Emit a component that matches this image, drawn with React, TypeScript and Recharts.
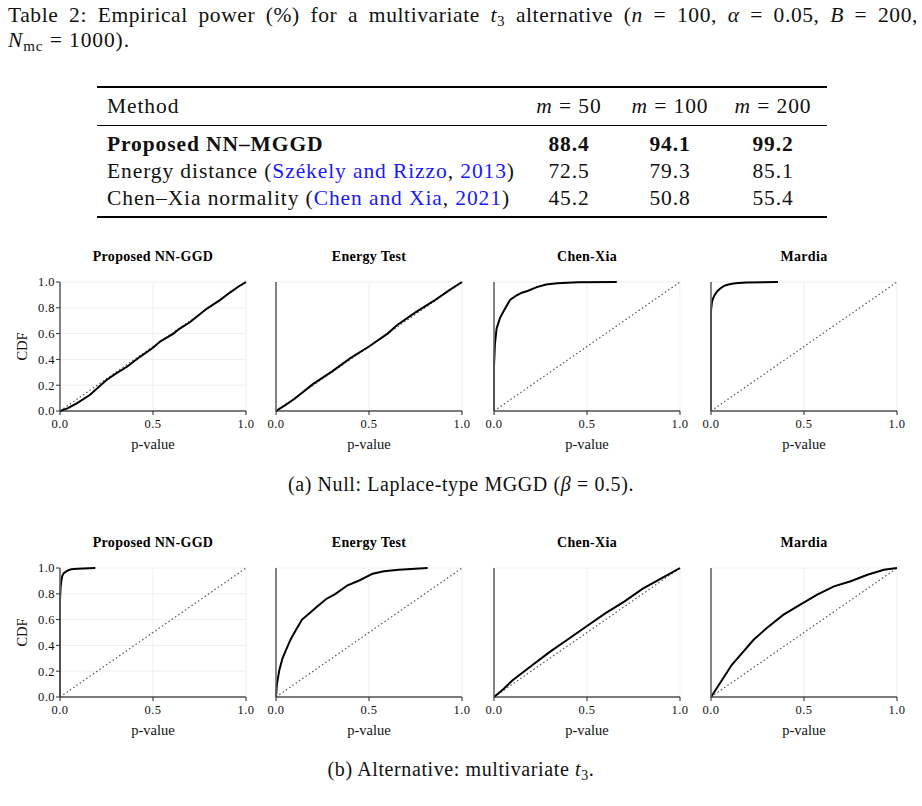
import React from "react";
import { LineChart, Line, XAxis, YAxis, CartesianGrid, Label } from "recharts";

const xTicks = [0, 0.5, 1];
const yTicks = [0, 0.2, 0.4, 0.6, 0.8, 1];
const panelTitles = ["Proposed NN-GGD", "Energy Test", "Chen-Xia", "Mardia"];

const tableColumns = ["50", "100", "200"];
const proposedPower = ["88.4", "94.1", "99.2"];
const energyPower = ["72.5", "79.3", "85.1"];
const chenXiaPower = ["45.2", "50.8", "55.4"];

// uniform reference line
const diagonal = [
  { p: 0, cdf: 0 },
  { p: 1, cdf: 1 },
];

// (a) null: Laplace-type MGGD
const nullProposed = [
  { p: 0, cdf: 0 }, { p: 0.04, cdf: 0.02 }, { p: 0.09, cdf: 0.059 }, { p: 0.16, cdf: 0.124 },
  { p: 0.25, cdf: 0.24 }, { p: 0.3, cdf: 0.29 }, { p: 0.36, cdf: 0.343 }, { p: 0.43, cdf: 0.42 },
  { p: 0.5, cdf: 0.49 }, { p: 0.54, cdf: 0.54 }, { p: 0.61, cdf: 0.6 }, { p: 0.64, cdf: 0.635 },
  { p: 0.7, cdf: 0.69 }, { p: 0.79, cdf: 0.794 }, { p: 0.86, cdf: 0.86 }, { p: 0.915, cdf: 0.92 },
  { p: 0.96, cdf: 0.965 }, { p: 1, cdf: 1 },
];
const nullEnergy = [
  { p: 0, cdf: 0 }, { p: 0.05, cdf: 0.045 }, { p: 0.1, cdf: 0.095 }, { p: 0.2, cdf: 0.21 },
  { p: 0.3, cdf: 0.305 }, { p: 0.4, cdf: 0.41 }, { p: 0.5, cdf: 0.5 }, { p: 0.6, cdf: 0.6 },
  { p: 0.65, cdf: 0.665 }, { p: 0.75, cdf: 0.765 }, { p: 0.85, cdf: 0.855 }, { p: 0.93, cdf: 0.935 },
  { p: 1, cdf: 1 },
];
const nullChenXia = [
  { p: 0, cdf: 0 }, { p: 0, cdf: 0.35 }, { p: 0.005, cdf: 0.52 }, { p: 0.014, cdf: 0.64 },
  { p: 0.032, cdf: 0.72 }, { p: 0.05, cdf: 0.77 }, { p: 0.086, cdf: 0.86 }, { p: 0.12, cdf: 0.895 },
  { p: 0.15, cdf: 0.917 }, { p: 0.18, cdf: 0.93 }, { p: 0.23, cdf: 0.96 }, { p: 0.28, cdf: 0.98 },
  { p: 0.34, cdf: 0.99 }, { p: 0.45, cdf: 0.998 }, { p: 0.66, cdf: 1 },
];
const nullMardia = [
  { p: 0, cdf: 0 }, { p: 0, cdf: 0.78 }, { p: 0.005, cdf: 0.84 }, { p: 0.01, cdf: 0.87 },
  { p: 0.02, cdf: 0.9 }, { p: 0.035, cdf: 0.93 }, { p: 0.05, cdf: 0.95 }, { p: 0.07, cdf: 0.97 },
  { p: 0.093, cdf: 0.98 }, { p: 0.13, cdf: 0.99 }, { p: 0.19, cdf: 0.996 }, { p: 0.36, cdf: 1 },
];

// (b) alternative: multivariate t3
const altProposed = [
  { p: 0, cdf: 0 }, { p: 0, cdf: 0.75 }, { p: 0.003, cdf: 0.85 }, { p: 0.008, cdf: 0.91 },
  { p: 0.0125, cdf: 0.94 }, { p: 0.02, cdf: 0.96 }, { p: 0.04, cdf: 0.98 }, { p: 0.06, cdf: 0.99 },
  { p: 0.093, cdf: 0.995 }, { p: 0.19, cdf: 1 },
];
const altEnergy = [
  { p: 0, cdf: 0 }, { p: 0.005, cdf: 0.1 }, { p: 0.018, cdf: 0.21 }, { p: 0.035, cdf: 0.3 },
  { p: 0.054, cdf: 0.365 }, { p: 0.08, cdf: 0.45 }, { p: 0.107, cdf: 0.52 }, { p: 0.14, cdf: 0.6 },
  { p: 0.18, cdf: 0.65 }, { p: 0.22, cdf: 0.7 }, { p: 0.27, cdf: 0.76 }, { p: 0.32, cdf: 0.8 },
  { p: 0.385, cdf: 0.866 }, { p: 0.45, cdf: 0.905 }, { p: 0.52, cdf: 0.956 }, { p: 0.58, cdf: 0.975 },
  { p: 0.66, cdf: 0.987 }, { p: 0.815, cdf: 1 },
];
const altChenXia = [
  { p: 0, cdf: 0 }, { p: 0.05, cdf: 0.06 }, { p: 0.1, cdf: 0.13 }, { p: 0.2, cdf: 0.24 },
  { p: 0.3, cdf: 0.35 }, { p: 0.4, cdf: 0.45 }, { p: 0.5, cdf: 0.55 }, { p: 0.6, cdf: 0.65 },
  { p: 0.7, cdf: 0.74 }, { p: 0.8, cdf: 0.84 }, { p: 0.9, cdf: 0.92 }, { p: 1, cdf: 1 },
];
const altMardia = [
  { p: 0, cdf: 0 }, { p: 0.049, cdf: 0.109 }, { p: 0.112, cdf: 0.25 }, { p: 0.175, cdf: 0.354 },
  { p: 0.229, cdf: 0.444 }, { p: 0.3, cdf: 0.535 }, { p: 0.39, cdf: 0.638 }, { p: 0.48, cdf: 0.716 },
  { p: 0.571, cdf: 0.793 }, { p: 0.661, cdf: 0.858 }, { p: 0.751, cdf: 0.897 }, { p: 0.841, cdf: 0.948 },
  { p: 0.93, cdf: 0.987 }, { p: 1, cdf: 1 },
];

const nullCurves = [nullProposed, nullEnergy, nullChenXia, nullMardia];
const altCurves = [altProposed, altEnergy, altChenXia, altMardia];

const SERIF = '"Liberation Serif", "DejaVu Serif", serif';
const PLOT_W = 186;
const PLOT_H = 129;
const AX_W = 45;
const RIGHT = 18;
const TOP = 8;
const X_H = 40;
const BOTTOM = 4;
const colLefts = [60, 276, 494, 711];
const rowTops = [282, 568];

const tickStyle = { fill: "#111", fontSize: 12.5, fontFamily: SERIF, letterSpacing: 0.5 };
const labelStyle = { fill: "#111", fontSize: 14.5, fontFamily: SERIF };

function Panel({ title, curve, plotLeft, plotTop, first }: any) {
  return (
    <>
      <div
        style={{
          position: "absolute",
          left: plotLeft - 20,
          width: PLOT_W + 40,
          top: plotTop - 25 - 9,
          textAlign: "center",
          fontFamily: SERIF,
          fontWeight: "bold",
          fontSize: 14,
          letterSpacing: 0.3,
          lineHeight: "18px",
          color: "#000",
        }}
      >
        {title}
      </div>
      <div style={{ position: "absolute", left: plotLeft - AX_W, top: plotTop - TOP }}>
        <LineChart
          width={AX_W + PLOT_W + RIGHT}
          height={TOP + PLOT_H + X_H + BOTTOM}
          margin={{ top: TOP, right: RIGHT, bottom: BOTTOM, left: 0 }}
        >
          <CartesianGrid stroke="#efefef" />
          <XAxis
            type="number"
            dataKey="p"
            domain={[0, 1]}
            ticks={xTicks}
            tickFormatter={(v: number) => v.toFixed(1)}
            height={X_H}
            tickSize={4}
            tickMargin={4}
            axisLine={{ stroke: "#000", strokeWidth: 1.2 }}
            tickLine={{ stroke: "#222" }}
            tick={tickStyle}
            interval={0}
          >
            <Label value="p-value" position="insideBottom" offset={2} style={labelStyle} />
          </XAxis>
          <YAxis
            type="number"
            domain={[0, 1]}
            ticks={yTicks}
            tickFormatter={(v: number) => v.toFixed(1)}
            width={AX_W}
            tickSize={4}
            tickMargin={1}
            axisLine={{ stroke: "#666", strokeWidth: 1.6 }}
            tickLine={{ stroke: "#333" }}
            tick={first ? tickStyle : false}
            interval={0}
          >
            {first && (
              <Label
                value="CDF"
                angle={-90}
                position="insideLeft"
                offset={7}
                style={{ ...labelStyle, textAnchor: "middle" }}
              />
            )}
          </YAxis>
          <Line
            data={diagonal}
            dataKey="cdf"
            type="linear"
            stroke="#555"
            strokeWidth={1.2}
            strokeDasharray="1.5 2.5"
            dot={false}
            isAnimationActive={false}
          />
          <Line
            data={curve}
            dataKey="cdf"
            type="linear"
            stroke="#000"
            strokeWidth={2}
            dot={false}
            isAnimationActive={false}
          />
        </LineChart>
      </div>
    </>
  );
}

const sub = (s: string) => (
  <span style={{ fontSize: "0.7em", verticalAlign: "-0.25em", lineHeight: 0 }}>{s}</span>
);
const blue = (s: string) => <span style={{ color: "#1a1aff" }}>{s}</span>;

const textRow = (top: number, extra: any = {}) => ({
  position: "absolute" as const,
  top: top - 12.5,
  lineHeight: "25px",
  fontFamily: SERIF,
  fontSize: 21.5,
  letterSpacing: 0.9,
  whiteSpace: "nowrap" as const,
  color: "#111",
  ...extra,
});

const colCenters = [569, 670, 773];

export default function App() {
  const rowsY = [144, 171, 198];
  const values = [proposedPower, energyPower, chenXiaPower];
  return (
    <div
      style={{
        position: "absolute",
        left: 0,
        top: 0,
        width: 922,
        height: 806,
        background: "#fff",
        overflow: "hidden",
      }}
    >
      <div style={{ ...textRow(15), left: 8, width: 910, textAlign: "justify", textAlignLast: "justify", letterSpacing: 0.6 }}>
        Table 2: Empirical power (%) for a multivariate <i>t</i>
        {sub("3")} alternative (<i>n</i> = 100, <i>α</i> = 0.05, <i>B</i> = 200,
      </div>
      <div style={textRow(40, { left: 8 })}>
        <i>N</i>
        {sub("mc")} = 1000).
      </div>

      <div style={{ position: "absolute", left: 97, width: 730, top: 86, height: 2, background: "#000" }} />
      <div style={{ position: "absolute", left: 97, width: 730, top: 125, height: 1, background: "#000" }} />
      <div style={{ position: "absolute", left: 97, width: 730, top: 216, height: 2, background: "#000" }} />

      <div style={textRow(106, { left: 107 })}>Method</div>
      {tableColumns.map((m, i) => (
        <div key={m} style={textRow(106, { left: colCenters[i] - 60, width: 120, textAlign: "center" })}>
          <i>m</i> = {m}
        </div>
      ))}
      <div style={textRow(rowsY[0], { left: 107, fontWeight: "bold" })}>Proposed NN–MGGD</div>
      <div style={textRow(rowsY[1], { left: 107 })}>
        Energy distance ({blue("Székely and Rizzo")}, {blue("2013")})
      </div>
      <div style={textRow(rowsY[2], { left: 107 })}>
        Chen–Xia normality ({blue("Chen and Xia")}, {blue("2021")})
      </div>
      {values.map((row, r) =>
        row.map((v, i) => (
          <div
            key={r + "-" + i}
            style={textRow(rowsY[r], {
              left: colCenters[i] - 50,
              width: 100,
              textAlign: "center",
              fontWeight: r === 0 ? "bold" : "normal",
            })}
          >
            {v}
          </div>
        ))
      )}

      {panelTitles.map((t, i) => (
        <Panel key={"a" + i} title={t} curve={nullCurves[i]} plotLeft={colLefts[i]} plotTop={rowTops[0]} first={i === 0} />
      ))}
      <div style={textRow(484, { left: 0, width: 922, textAlign: "center", fontSize: 20, letterSpacing: 0.6 })}>
        (a) Null: Laplace-type MGGD (<i>β</i> = 0.5).
      </div>

      {panelTitles.map((t, i) => (
        <Panel key={"b" + i} title={t} curve={altCurves[i]} plotLeft={colLefts[i]} plotTop={rowTops[1]} first={i === 0} />
      ))}
      <div style={textRow(769, { left: 0, width: 922, textAlign: "center", fontSize: 20, letterSpacing: 0.6 })}>
        (b) Alternative: multivariate <i>t</i>
        {sub("3")}.
      </div>
    </div>
  );
}
